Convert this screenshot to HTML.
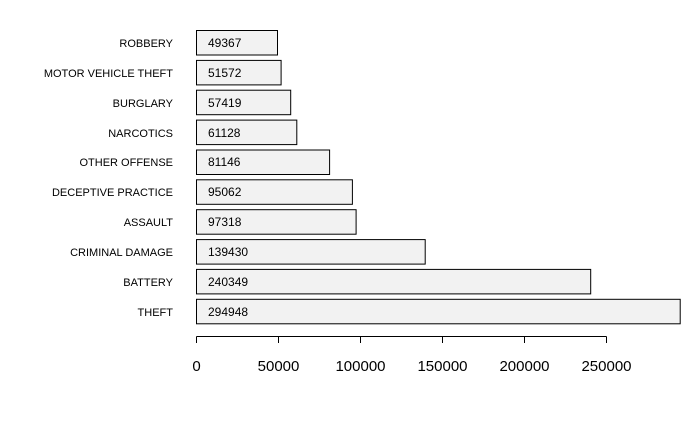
<!DOCTYPE html><html><head><style>body{margin:0;background:#fff}</style></head><body>
<svg width="700" height="432" xmlns="http://www.w3.org/2000/svg" font-family="Liberation Sans, Arial, sans-serif">
<g stroke="#000" stroke-width="1" fill="#f2f2f2">
<rect x="196.5" y="30.5" width="81" height="24.5"/>
<rect x="196.5" y="60.4" width="84.6" height="24.5"/>
<rect x="196.5" y="90.2" width="94.2" height="24.5"/>
<rect x="196.5" y="120.1" width="100.3" height="24.5"/>
<rect x="196.5" y="150" width="133.1" height="24.5"/>
<rect x="196.5" y="179.8" width="155.9" height="24.5"/>
<rect x="196.5" y="209.7" width="159.6" height="24.5"/>
<rect x="196.5" y="239.6" width="228.7" height="24.5"/>
<rect x="196.5" y="269.4" width="394.2" height="24.5"/>
<rect x="196.5" y="299.3" width="483.7" height="24.5"/>
</g>
<g font-size="11" fill="#000" text-anchor="end">
<text x="173" y="47">ROBBERY</text>
<text x="173" y="77">MOTOR VEHICLE THEFT</text>
<text x="173" y="107">BURGLARY</text>
<text x="173" y="137">NARCOTICS</text>
<text x="173" y="166">OTHER OFFENSE</text>
<text x="173" y="196">DECEPTIVE PRACTICE</text>
<text x="173" y="226">ASSAULT</text>
<text x="173" y="256">CRIMINAL DAMAGE</text>
<text x="173" y="286">BATTERY</text>
<text x="173" y="316">THEFT</text>
</g>
<g font-size="12" fill="#000">
<text x="208" y="47">49367</text>
<text x="208" y="77">51572</text>
<text x="208" y="107">57419</text>
<text x="208" y="137">61128</text>
<text x="208" y="166">81146</text>
<text x="208" y="196">95062</text>
<text x="208" y="226">97318</text>
<text x="208" y="256">139430</text>
<text x="208" y="286">240349</text>
<text x="208" y="316">294948</text>
</g>
<g stroke="#000" stroke-width="1">
<line x1="196.5" y1="336.5" x2="606.5" y2="336.5"/>
<line x1="196.5" y1="336.5" x2="196.5" y2="343"/>
<line x1="278.5" y1="336.5" x2="278.5" y2="343"/>
<line x1="360.5" y1="336.5" x2="360.5" y2="343"/>
<line x1="442.5" y1="336.5" x2="442.5" y2="343"/>
<line x1="524.5" y1="336.5" x2="524.5" y2="343"/>
<line x1="606.5" y1="336.5" x2="606.5" y2="343"/>
</g>
<g font-size="15" text-anchor="middle" fill="#000">
<text x="196.5" y="371">0</text>
<text x="278.5" y="371">50000</text>
<text x="360.5" y="371">100000</text>
<text x="442.5" y="371">150000</text>
<text x="524.5" y="371">200000</text>
<text x="606.5" y="371">250000</text>
</g>
</svg></body></html>
